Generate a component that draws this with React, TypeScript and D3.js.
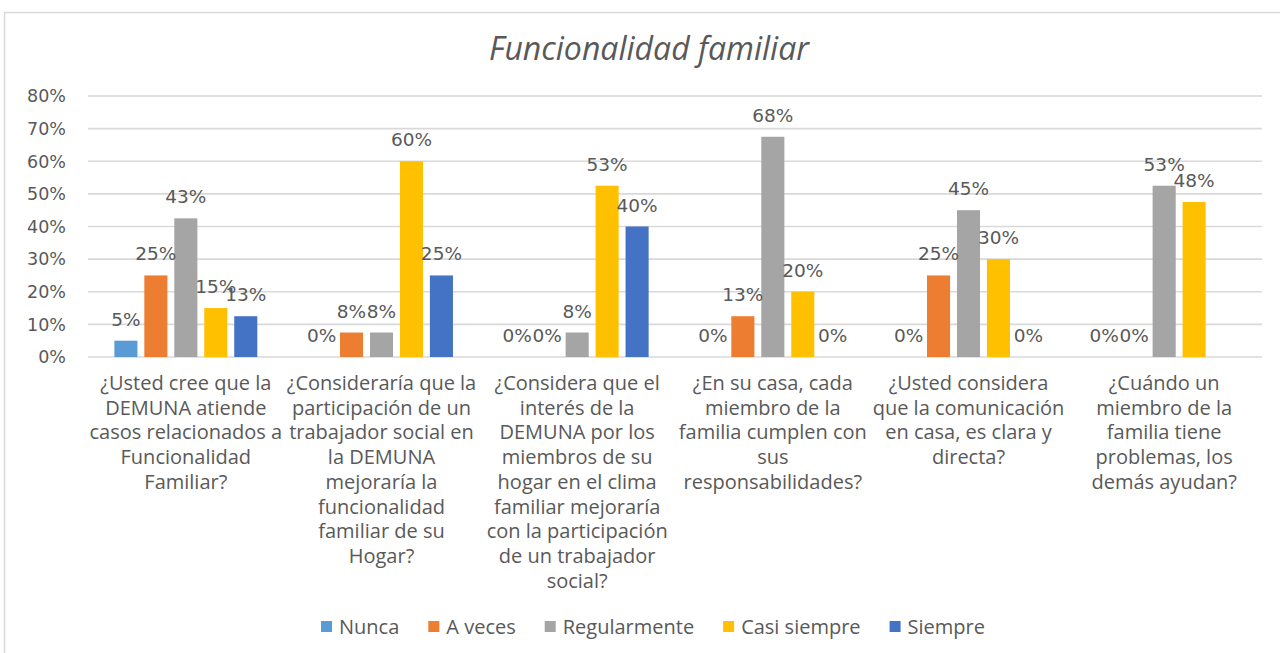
import React, { useEffect, useRef } from "react";
import * as d3 from "d3";

const categories = [
  "¿Usted cree que la\nDEMUNA atiende\ncasos relacionados a\nFuncionalidad\nFamiliar?",
  "¿Consideraría que la\nparticipación de un\ntrabajador social en\nla DEMUNA\nmejoraría la\nfuncionalidad\nfamiliar de su\nHogar?",
  "¿Considera que el\ninterés de la\nDEMUNA por los\nmiembros de su\nhogar en el clima\nfamiliar mejoraría\ncon la participación\nde un trabajador\nsocial?",
  "¿En su casa, cada\nmiembro de la\nfamilia cumplen con\nsus\nresponsabilidades?",
  "¿Usted considera\nque la comunicación\nen casa, es clara y\ndirecta?",
  "¿Cuándo un\nmiembro de la\nfamilia tiene\nproblemas, los\ndemás ayudan?",
];

const seriesNames = ["Nunca", "A veces", "Regularmente", "Casi siempre", "Siempre"];
const seriesColors = ["#5B9BD5", "#ED7D31", "#A5A5A5", "#FFC000", "#4472C4"];

// values in percent, one array per series (ordered by category)
const nunca = [5, 0, 0, 0, 0, 0];
const aVeces = [25, 7.5, 0, 12.5, 25, 0];
const regularmente = [42.5, 7.5, 7.5, 67.5, 45, 52.5];
const casiSiempre = [15, 60, 52.5, 20, 30, 47.5];
const siempre = [12.5, 25, 40, 0, 0, 0];

// which data labels are shown in the original
const showNunca = [true, true, true, true, true, true];
const showAVeces = [true, true, true, true, true, true];
const showRegular = [true, true, true, true, true, true];
const showCasi = [true, true, true, true, true, true];
const showSiempre = [true, true, true, true, true, false];

const yTicks = [0, 10, 20, 30, 40, 50, 60, 70, 80];
const title = "Funcionalidad familiar";

export default function App() {
  const ref = useRef<SVGSVGElement | null>(null);

  useEffect(() => {
    const svg = d3.select(ref.current);
    svg.selectAll("*").remove();

    const W = 1280, H = 653;
    const left = 88, right = 1262, top = 96, bottom = 357;
    const textColor = "#595959";
    const gridColor = "#D9D9D9";

    const allSeries = [nunca, aVeces, regularmente, casiSiempre, siempre];
    const shows = [showNunca, showAVeces, showRegular, showCasi, showSiempre];

    svg.append("rect").attr("x", 0).attr("y", 0).attr("width", W).attr("height", H).attr("fill", "#fff");
    svg.append("rect")
      .attr("x", 4.5).attr("y", 12.5).attr("width", 1300).attr("height", 700)
      .attr("fill", "none").attr("stroke", gridColor).attr("stroke-width", 1.5);

    svg.append("text")
      .attr("x", 649).attr("y", 60)
      .attr("text-anchor", "middle")
      .attr("font-family", "Open Sans")
      .attr("font-style", "italic")
      .attr("font-size", 32)
      .attr("fill", textColor)
      .text(title);

    const x0 = d3.scaleBand<number>().domain(d3.range(categories.length)).range([left, right]).paddingInner(0).paddingOuter(0);
    const x1 = d3.scaleBand<number>().domain(d3.range(seriesNames.length)).range([0, x0.bandwidth()]).paddingInner(0.23).paddingOuter(0.88);
    const y = d3.scaleLinear().domain([0, 80]).range([bottom, top]);

    const grid = svg.append("g");
    yTicks.forEach((t) => {
      grid.append("line")
        .attr("x1", left).attr("x2", right)
        .attr("y1", y(t)).attr("y2", y(t))
        .attr("stroke", gridColor).attr("stroke-width", 1.6);
      grid.append("text")
        .attr("x", 66).attr("y", y(t))
        .attr("dy", "0.36em")
        .attr("text-anchor", "end")
        .attr("font-family", "DejaVu Sans")
        .attr("font-size", 17.5)
        .attr("fill", textColor)
        .text(`${t}%`);
    });

    const bars = svg.append("g");
    allSeries.forEach((vals, s) => {
      vals.forEach((v, c) => {
        const bx = x0(c)! + x1(s)!;
        bars.append("rect")
          .attr("x", bx).attr("y", y(v))
          .attr("width", x1.bandwidth())
          .attr("height", y(0) - y(v))
          .attr("fill", seriesColors[s]);
      });
    });

    const labels = svg.append("g");
    allSeries.forEach((vals, s) => {
      vals.forEach((v, c) => {
        if (!shows[s][c]) return;
        const cx = x0(c)! + x1(s)! + x1.bandwidth() / 2;
        labels.append("text")
          .attr("x", cx).attr("y", y(v) - 15)
          .attr("text-anchor", "middle")
          .attr("font-family", "DejaVu Sans")
          .attr("font-size", 18.5)
          .attr("fill", textColor)
          .text(`${Math.round(v)}%`);
      });
    });

    const cats = svg.append("g");
    categories.forEach((cat, c) => {
      const cx = x0(c)! + x0.bandwidth() / 2;
      const lines = cat.split("\n");
      const t = cats.append("text")
        .attr("text-anchor", "middle")
        .attr("font-family", "Open Sans")
        .attr("font-size", 20)
        .attr("fill", textColor);
      lines.forEach((ln, i) => {
        t.append("tspan").attr("x", cx).attr("y", 390 + i * 24.7).text(ln);
      });
    });

    // legend
    const lg = svg.append("g");
    const items = seriesNames.map((name, i) => {
      const g = lg.append("g");
      g.append("rect").attr("x", 0).attr("y", -6).attr("width", 11).attr("height", 11).attr("fill", seriesColors[i]);
      const tx = g.append("text")
        .attr("x", 18).attr("y", 0).attr("dy", "0.35em")
        .attr("font-family", "Open Sans").attr("font-size", 20)
        .attr("fill", textColor).text(name);
      const w = 18 + (tx.node() as SVGTextElement).getComputedTextLength();
      return { g, w };
    });
    const gap = 29;
    const total = d3.sum(items, (d) => d.w) + gap * (items.length - 1);
    let cx = 653 - total / 2;
    items.forEach((it) => {
      it.g.attr("transform", `translate(${cx},627)`);
      cx += it.w + gap;
    });
  }, []);

  return (
    <svg ref={ref} width={1280} height={653} style={{ position: "absolute", left: 0, top: 0, display: "block" }} />
  );
}
